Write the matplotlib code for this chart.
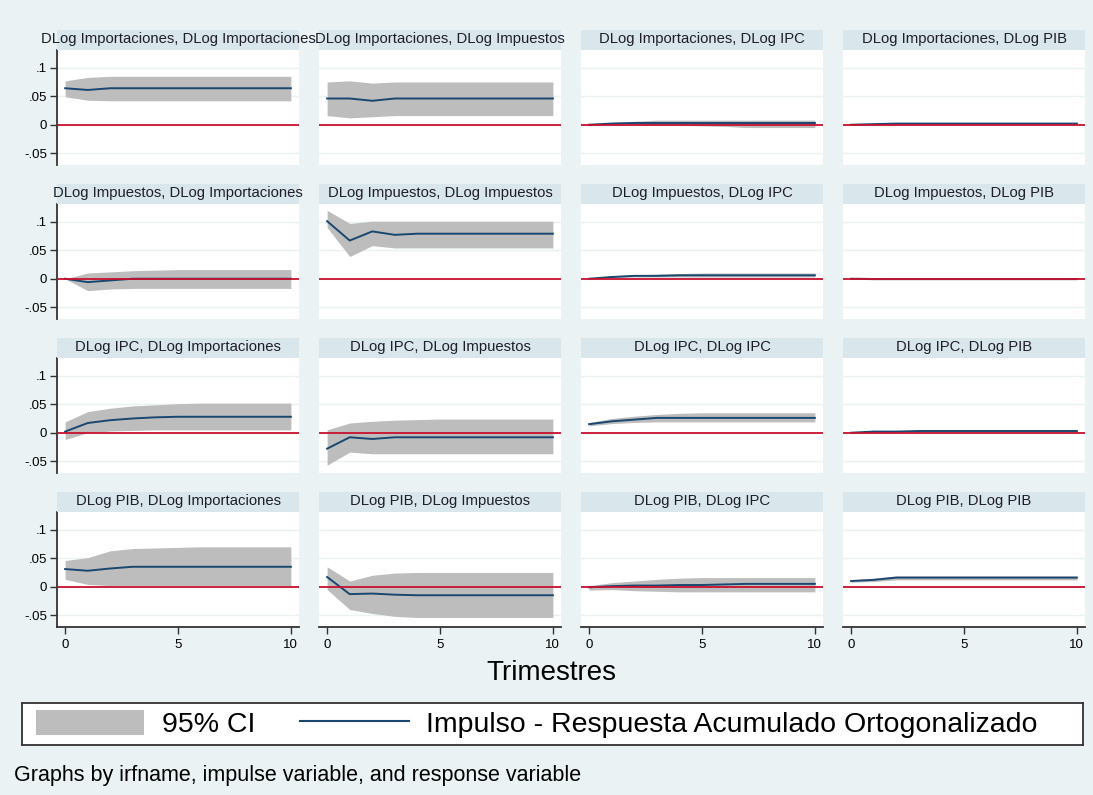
import numpy as np
import matplotlib.pyplot as plt
from matplotlib.patches import Patch
from matplotlib.lines import Line2D

plt.rcParams['font.family'] = ['Liberation Sans', 'DejaVu Sans']

# Horizonte (trimestres)
steps = list(range(11))
variables = ['Importaciones', 'Impuestos', 'IPC', 'PIB']

# --- impulso: Importaciones ---
imp_imp_irf = [0.064, 0.061, 0.064, 0.064, 0.064, 0.064, 0.064, 0.064, 0.064, 0.064, 0.064]
imp_imp_lo = [0.049, 0.043, 0.042, 0.042, 0.042, 0.042, 0.042, 0.042, 0.042, 0.042, 0.042]
imp_imp_hi = [0.077, 0.083, 0.085, 0.085, 0.085, 0.085, 0.085, 0.085, 0.085, 0.085, 0.085]
imp_tax_irf = [0.046, 0.046, 0.042, 0.046, 0.046, 0.046, 0.046, 0.046, 0.046, 0.046, 0.046]
imp_tax_lo = [0.016, 0.012, 0.014, 0.016, 0.016, 0.016, 0.016, 0.016, 0.016, 0.016, 0.016]
imp_tax_hi = [0.075, 0.077, 0.073, 0.075, 0.075, 0.075, 0.075, 0.075, 0.075, 0.075, 0.075]
imp_ipc_irf = [0.0, 0.002, 0.003, 0.003, 0.003, 0.003, 0.003, 0.003, 0.003, 0.003, 0.003]
imp_ipc_lo = [0.0, 0.001, 0.001, 0.0, -0.001, -0.002, -0.003, -0.005, -0.005, -0.005, -0.005]
imp_ipc_hi = [0.0, 0.004, 0.006, 0.008, 0.008, 0.008, 0.008, 0.008, 0.008, 0.008, 0.008]
imp_pib_irf = [0.0, 0.001, 0.002, 0.002, 0.002, 0.002, 0.002, 0.002, 0.002, 0.002, 0.002]
imp_pib_lo = [0.0, 0.0, 0.001, 0.001, 0.001, 0.001, 0.001, 0.001, 0.001, 0.001, 0.001]
imp_pib_hi = [0.0, 0.002, 0.003, 0.003, 0.003, 0.003, 0.003, 0.003, 0.003, 0.003, 0.003]

# --- impulso: Impuestos ---
tax_imp_irf = [0.0, -0.006, -0.003, 0.0, 0.0, 0.0, 0.0, 0.0, 0.0, 0.0, 0.0]
tax_imp_lo = [0.0, -0.021, -0.018, -0.017, -0.017, -0.017, -0.017, -0.017, -0.017, -0.017, -0.017]
tax_imp_hi = [0.0, 0.010, 0.012, 0.014, 0.015, 0.016, 0.016, 0.016, 0.016, 0.016, 0.016]
tax_tax_irf = [0.101, 0.067, 0.083, 0.077, 0.079, 0.079, 0.079, 0.079, 0.079, 0.079, 0.079]
tax_tax_lo = [0.090, 0.039, 0.058, 0.054, 0.054, 0.054, 0.054, 0.054, 0.054, 0.054, 0.054]
tax_tax_hi = [0.120, 0.097, 0.101, 0.101, 0.101, 0.101, 0.101, 0.101, 0.101, 0.101, 0.101]
tax_ipc_irf = [0.0, 0.003, 0.005, 0.005, 0.006, 0.006, 0.006, 0.006, 0.006, 0.006, 0.006]
tax_ipc_lo = [0.0, 0.002, 0.003, 0.003, 0.003, 0.003, 0.003, 0.003, 0.003, 0.003, 0.003]
tax_ipc_hi = [0.0, 0.005, 0.007, 0.008, 0.009, 0.010, 0.010, 0.010, 0.010, 0.010, 0.010]
tax_pib_irf = [0.0, -0.0005, -0.0005, -0.0005, -0.0005, -0.0005, -0.0005, -0.0005, -0.0005, -0.0005, -0.0005]
tax_pib_lo = [0.0, -0.002, -0.002, -0.002, -0.002, -0.002, -0.002, -0.002, -0.002, -0.002, -0.002]
tax_pib_hi = [0.0, 0.001, 0.001, 0.001, 0.001, 0.001, 0.001, 0.001, 0.001, 0.001, 0.001]

# --- impulso: IPC ---
ipc_imp_irf = [0.002, 0.017, 0.022, 0.025, 0.027, 0.028, 0.028, 0.028, 0.028, 0.028, 0.028]
ipc_imp_lo = [-0.012, 0.0, 0.003, 0.004, 0.005, 0.005, 0.005, 0.005, 0.005, 0.005, 0.005]
ipc_imp_hi = [0.019, 0.037, 0.043, 0.047, 0.049, 0.051, 0.052, 0.052, 0.052, 0.052, 0.052]
ipc_tax_irf = [-0.028, -0.008, -0.011, -0.008, -0.008, -0.008, -0.008, -0.008, -0.008, -0.008, -0.008]
ipc_tax_lo = [-0.057, -0.034, -0.037, -0.037, -0.037, -0.037, -0.037, -0.037, -0.037, -0.037, -0.037]
ipc_tax_hi = [0.005, 0.017, 0.020, 0.022, 0.023, 0.024, 0.024, 0.024, 0.024, 0.024, 0.024]
ipc_ipc_irf = [0.015, 0.020, 0.023, 0.026, 0.026, 0.026, 0.026, 0.026, 0.026, 0.026, 0.026]
ipc_ipc_lo = [0.012, 0.016, 0.018, 0.019, 0.019, 0.019, 0.019, 0.019, 0.019, 0.019, 0.019]
ipc_ipc_hi = [0.018, 0.025, 0.029, 0.032, 0.034, 0.035, 0.035, 0.035, 0.035, 0.035, 0.035]
ipc_pib_irf = [0.0, 0.002, 0.002, 0.003, 0.003, 0.003, 0.003, 0.003, 0.003, 0.003, 0.003]
ipc_pib_lo = [0.0, 0.001, 0.001, 0.0015, 0.0015, 0.0015, 0.0015, 0.0015, 0.0015, 0.0015, 0.0015]
ipc_pib_hi = [0.0, 0.003, 0.003, 0.0045, 0.0045, 0.0045, 0.0045, 0.0045, 0.0045, 0.0045, 0.0045]

# --- impulso: PIB ---
pib_imp_irf = [0.031, 0.028, 0.032, 0.035, 0.035, 0.035, 0.035, 0.035, 0.035, 0.035, 0.035]
pib_imp_lo = [0.013, 0.004, 0.002, 0.002, 0.002, 0.002, 0.002, 0.002, 0.002, 0.002, 0.002]
pib_imp_hi = [0.046, 0.051, 0.063, 0.067, 0.068, 0.069, 0.070, 0.070, 0.070, 0.070, 0.070]
pib_tax_irf = [0.017, -0.013, -0.012, -0.014, -0.015, -0.015, -0.015, -0.015, -0.015, -0.015, -0.015]
pib_tax_lo = [-0.005, -0.040, -0.047, -0.052, -0.054, -0.054, -0.054, -0.054, -0.054, -0.054, -0.054]
pib_tax_hi = [0.035, 0.010, 0.020, 0.024, 0.025, 0.025, 0.025, 0.025, 0.025, 0.025, 0.025]
pib_ipc_irf = [-0.001, 0.001, 0.002, 0.002, 0.003, 0.003, 0.004, 0.005, 0.005, 0.005, 0.005]
pib_ipc_lo = [-0.006, -0.005, -0.007, -0.008, -0.009, -0.009, -0.009, -0.009, -0.009, -0.009, -0.009]
pib_ipc_hi = [0.002, 0.007, 0.010, 0.013, 0.015, 0.016, 0.016, 0.016, 0.016, 0.016, 0.016]
pib_pib_irf = [0.010, 0.012, 0.016, 0.016, 0.016, 0.016, 0.016, 0.016, 0.016, 0.016, 0.016]
pib_pib_lo = [0.008, 0.009, 0.012, 0.012, 0.012, 0.012, 0.012, 0.012, 0.012, 0.012, 0.012]
pib_pib_hi = [0.012, 0.015, 0.019, 0.019, 0.019, 0.019, 0.019, 0.019, 0.019, 0.019, 0.019]

panels = [
    [(imp_imp_irf, imp_imp_lo, imp_imp_hi), (imp_tax_irf, imp_tax_lo, imp_tax_hi),
     (imp_ipc_irf, imp_ipc_lo, imp_ipc_hi), (imp_pib_irf, imp_pib_lo, imp_pib_hi)],
    [(tax_imp_irf, tax_imp_lo, tax_imp_hi), (tax_tax_irf, tax_tax_lo, tax_tax_hi),
     (tax_ipc_irf, tax_ipc_lo, tax_ipc_hi), (tax_pib_irf, tax_pib_lo, tax_pib_hi)],
    [(ipc_imp_irf, ipc_imp_lo, ipc_imp_hi), (ipc_tax_irf, ipc_tax_lo, ipc_tax_hi),
     (ipc_ipc_irf, ipc_ipc_lo, ipc_ipc_hi), (ipc_pib_irf, ipc_pib_lo, ipc_pib_hi)],
    [(pib_imp_irf, pib_imp_lo, pib_imp_hi), (pib_tax_irf, pib_tax_lo, pib_tax_hi),
     (pib_ipc_irf, pib_ipc_lo, pib_ipc_hi), (pib_pib_irf, pib_pib_lo, pib_pib_hi)],
]

yticks = [-0.05, 0, 0.05, 0.1]
ytick_labels = ['-.05', '0', '.05', '.1']
xticks = [0, 5, 10]

bg = '#eaf2f3'
strip_c = '#d9e6ec'
band_c = '#bdbdbd'
line_c = '#1a476f'
zero_c = '#c8102e'

W, H = 1093, 795
fig = plt.figure(figsize=(W / 100, H / 100), dpi=100, facecolor=bg)


def px(x, y, w, h):
    # pixel box (top-left origin) -> figure fraction
    return [x / W, 1 - (y + h) / H, w / W, h / H]


for r in range(4):
    for c in range(4):
        x0 = 57 + 262 * c
        top = 49.5 + 154 * r
        ax = fig.add_axes(px(x0, top, 242, 115.5))
        irf, lo, hi = panels[r][c]
        ax.fill_between(steps, lo, hi, color=band_c, lw=0, zorder=2)
        ax.plot(steps, irf, color=line_c, lw=1.4, zorder=3)
        ax.axhline(0, color=zero_c, lw=1.3, zorder=4)
        ax.set_xlim(-0.36, 10.36)
        ax.set_ylim(-0.0707, 0.132)
        ax.set_yticks(yticks)
        ax.set_xticks(xticks)
        ax.grid(axis='y', color=bg, lw=1.0, zorder=1)
        ax.set_facecolor('white')
        for s in ax.spines.values():
            s.set_visible(False)
        ax.tick_params(axis='y', length=5, width=1, color='#333333', labelsize=9.5, pad=2)
        ax.tick_params(axis='x', length=5, width=1, color='#333333', labelsize=9.5, pad=4)
        if c == 0:
            ax.spines['left'].set_visible(True)
            ax.spines['left'].set_color('#333333')
            ax.spines['left'].set_linewidth(1.3)
            ax.set_yticklabels(ytick_labels)
        else:
            ax.tick_params(axis='y', left=False, labelleft=False)
        if r == 3:
            ax.spines['bottom'].set_visible(True)
            ax.spines['bottom'].set_color('#333333')
            ax.spines['bottom'].set_linewidth(1.3)
        else:
            ax.tick_params(axis='x', bottom=False, labelbottom=False)

        # title strip
        sax = fig.add_axes(px(x0, top - 20, 242, 20))
        sax.set_facecolor(strip_c)
        sax.set_xticks([])
        sax.set_yticks([])
        for s in sax.spines.values():
            s.set_visible(False)
        sax.text(0.5, 0.5, f'DLog {variables[r]}, DLog {variables[c]}',
                 ha='center', va='center', fontsize=10.7, color='#1e1e2a',
                 transform=sax.transAxes, clip_on=False, zorder=10)

fig.text(551 / W, 1 - 673 / H, 'Trimestres', ha='center', va='center', fontsize=20)

# legend box
lax = fig.add_axes(px(22, 703, 1061, 42))
lax.set_facecolor('white')
lax.set_xticks([])
lax.set_yticks([])
for s in lax.spines.values():
    s.set_color('#333333')
    s.set_linewidth(1.3)
handles = [Patch(facecolor=band_c, edgecolor='none'),
           Line2D([0], [0], color=line_c, lw=1.5)]
lax.legend(handles, ['95% CI', 'Impulso - Respuesta Acumulado Ortogonalizado'],
           loc='center left', bbox_to_anchor=(0.0, 0.5), ncol=2, frameon=False,
           fontsize=20.5, handlelength=3.8, handleheight=1.0, handletextpad=0.6,
           columnspacing=1.6, borderaxespad=0.3, borderpad=0.2)

fig.text(14 / W, 1 - 776 / H, 'Graphs by irfname, impulse variable, and response variable',
         ha='left', va='center', fontsize=15.5)

fig.savefig('out.png', dpi=100, facecolor=bg)
